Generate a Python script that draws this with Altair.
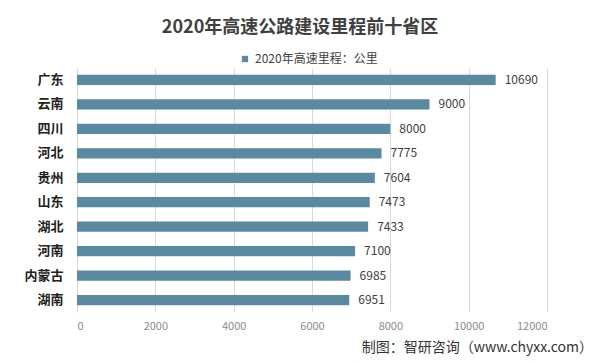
import altair as alt
import pandas as pd

provinces = ["广东", "云南", "四川", "河北", "贵州", "山东", "湖北", "河南", "内蒙古", "湖南"]
values = [10690, 9000, 8000, 7775, 7604, 7473, 7433, 7100, 6985, 6951]
series_name = "2020年高速里程：公里"
title_text = "2020年高速公路建设里程前十省区"
source_text = "制图：智研咨询（www.chyxx.com）"
x_ticks = [0, 2000, 4000, 6000, 8000, 10000, 12000]

df = pd.DataFrame({"省份": provinces, "里程": values, "series": [series_name] * len(provinces)})

FONT = "Noto Sans CJK SC"
BAR = "#5a8aa1"

y_enc = alt.Y("省份:N", sort=provinces, title=None,
              scale=alt.Scale(paddingInner=0.58, paddingOuter=0.28),
              axis=alt.Axis(labelFont=FONT, labelFontWeight="bold", labelFontSize=13,
                            labelColor="#222222", ticks=False, domain=False,
                            labelPadding=14, grid=False))
x_enc = alt.X("里程:Q", title=None,
              scale=alt.Scale(domain=[0, 12000], nice=False),
              axis=alt.Axis(values=x_ticks, format="d", labelFont=FONT, labelFontSize=11,
                            labelColor="#8c8c8c", ticks=False, domain=False,
                            grid=True, gridColor="#d9d9d9", labelPadding=8))

bars = alt.Chart(df).mark_bar(color=BAR).encode(
    x=x_enc,
    y=y_enc,
    color=alt.Color("series:N", scale=alt.Scale(range=[BAR]),
                    legend=alt.Legend(title=None, orient="none", legendX=162, legendY=-15,
                                      symbolType="square", symbolSize=40,
                                      labelFont=FONT, labelFontSize=12,
                                      labelColor="#404040", symbolStrokeWidth=0)),
)

labels = alt.Chart(df).mark_text(align="left", dx=9, font=FONT, fontSize=12,
                                 color="#404040").encode(
    x="里程:Q",
    y=alt.Y("省份:N", sort=provinces),
    text="里程:Q",
)

src = alt.Chart(pd.DataFrame({"t": [source_text]})).mark_text(
    align="right", baseline="middle", font=FONT, fontSize=14, color="#333333"
).encode(x=alt.value(516), y=alt.value(280), text="t:N")

chart = (bars + labels + src).properties(
    width=470, height=244,
    title=alt.Title(title_text, font=FONT, fontSize=18, fontWeight="bold",
                    color="#404040", anchor="middle", dx=-12, offset=16),
    autosize=alt.AutoSizeParams(type="none"),
    padding={"left": 69, "top": 60, "right": 45, "bottom": 46},
).configure_view(stroke=None)

chart.save("out.html", embed_options={"renderer": "svg", "actions": False})
